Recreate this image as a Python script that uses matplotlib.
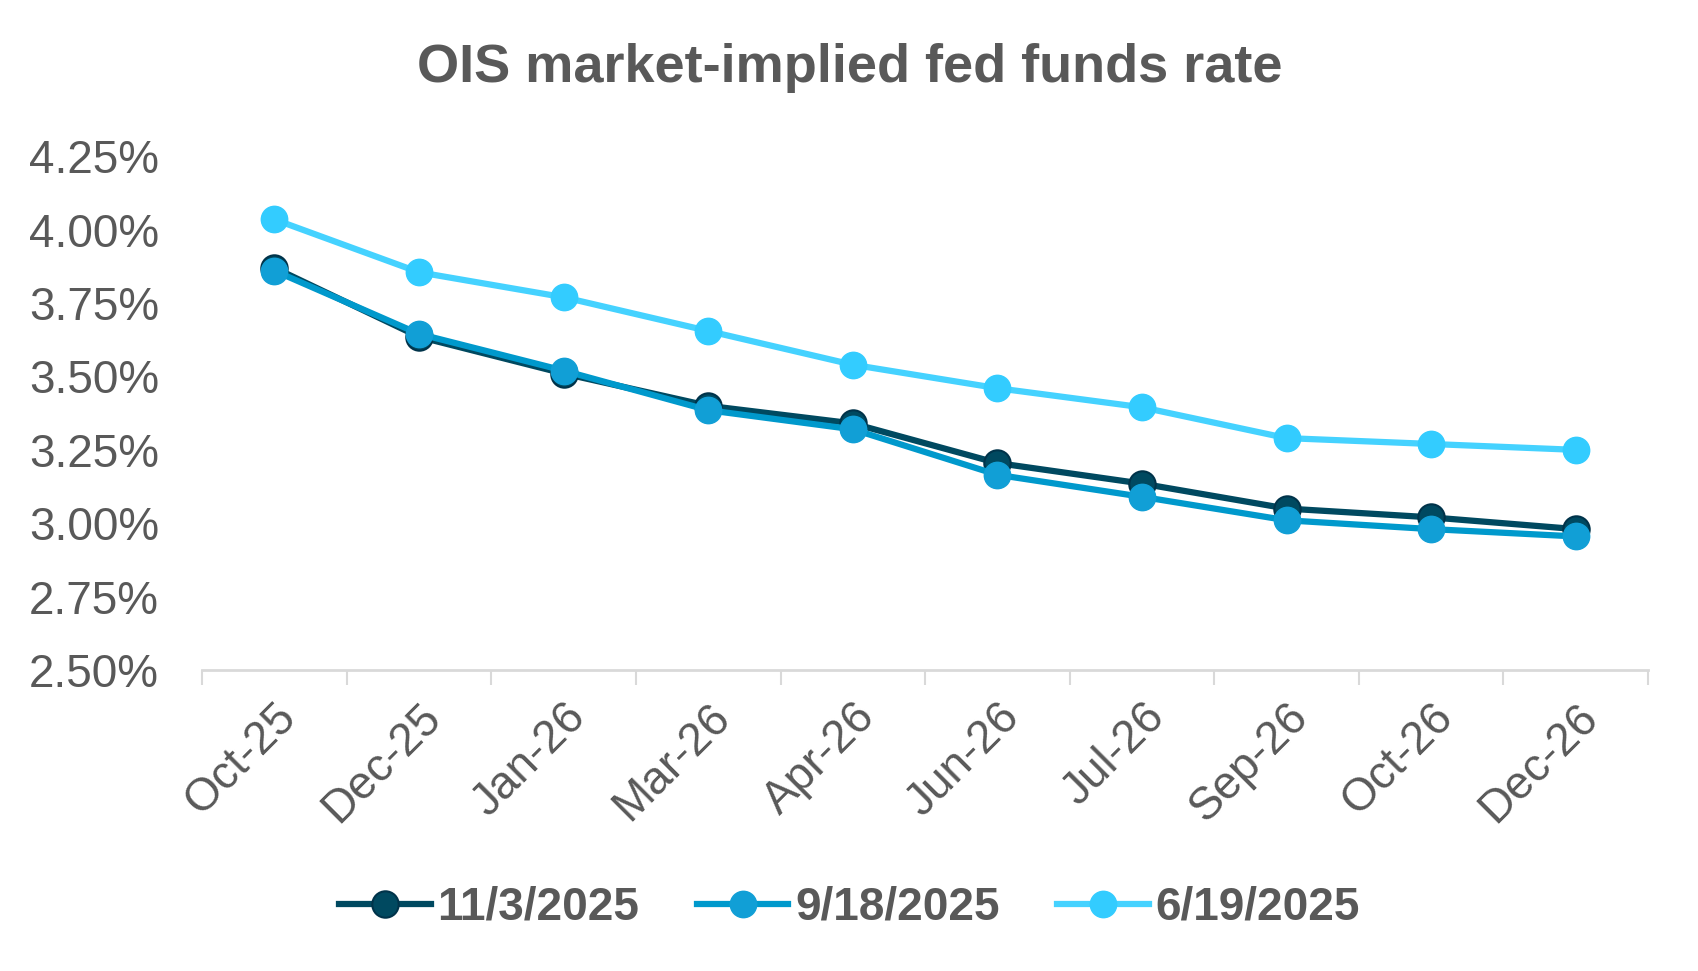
import matplotlib.pyplot as plt
from matplotlib.ticker import FuncFormatter, FixedLocator

plt.rcParams['font.family'] = ['Liberation Sans', 'DejaVu Sans']

months = ['Oct-25', 'Dec-25', 'Jan-26', 'Mar-26', 'Apr-26', 'Jun-26',
          'Jul-26', 'Sep-26', 'Oct-26', 'Dec-26']
nov03 = [3.87, 3.635, 3.51, 3.40, 3.34, 3.205, 3.135, 3.05, 3.02, 2.98]
sep18 = [3.86, 3.645, 3.52, 3.385, 3.32, 3.165, 3.09, 3.01, 2.98, 2.955]
jun19 = [4.035, 3.855, 3.77, 3.655, 3.54, 3.46, 3.395, 3.29, 3.27, 3.25]

grey = '#595959'
fig = plt.figure(figsize=(16.99, 9.71), dpi=100)
ax = fig.add_axes([0.119, 0.31, 0.851, 0.529])

x = range(len(months))
ax.plot(x, nov03, color='#004960', lw=4.5, marker='o', ms=19,
        mfc='#004960', mec='#00334a', mew=1.5, label='11/3/2025', zorder=4)
ax.plot(x, sep18, color='#0099CC', lw=4.5, marker='o', ms=19,
        mfc='#119FD6', mec='#119FD6', label='9/18/2025', zorder=5)
ax.plot(x, jun19, color='#45D2FF', lw=4.5, marker='o', ms=19,
        mfc='#33CCFF', mec='#33CCFF', label='6/19/2025', zorder=3)

ax.set_xlim(-0.5, len(months) - 0.5)
ax.set_ylim(2.5, 4.25)
ax.set_yticks([2.5, 2.75, 3.0, 3.25, 3.5, 3.75, 4.0, 4.25])
ax.yaxis.set_major_formatter(FuncFormatter(lambda v, p: f'{v:.2f}%'))
ax.set_xticks(list(x))
ax.set_xticklabels(months, rotation=45, ha='right', rotation_mode='anchor')
ax.xaxis.set_minor_locator(FixedLocator([i - 0.5 for i in range(len(months) + 1)]))

for s in ['top', 'right', 'left']:
    ax.spines[s].set_visible(False)
ax.spines['bottom'].set_color('#D9D9D9')
ax.spines['bottom'].set_linewidth(2)
ax.tick_params(axis='x', which='major', length=0, pad=18, labelsize=33, labelcolor=grey)
ax.tick_params(axis='x', which='minor', length=11, width=1.5, color='#D9D9D9')
ax.tick_params(axis='y', length=0, pad=31, labelsize=33, labelcolor=grey)

fig.text(0.5, 0.93, 'OIS market-implied fed funds rate', ha='center', va='center',
         fontsize=39, fontweight='bold', color=grey)

leg = fig.legend(loc='center', bbox_to_anchor=(0.5, 0.065), ncol=3, frameon=False,
                 prop={'size': 33, 'weight': 'bold'}, handlelength=2.0,
                 columnspacing=1.25, handletextpad=0.15)
for t in leg.get_texts():
    t.set_color(grey)

fig.savefig('out.png', dpi=100, facecolor='white')
